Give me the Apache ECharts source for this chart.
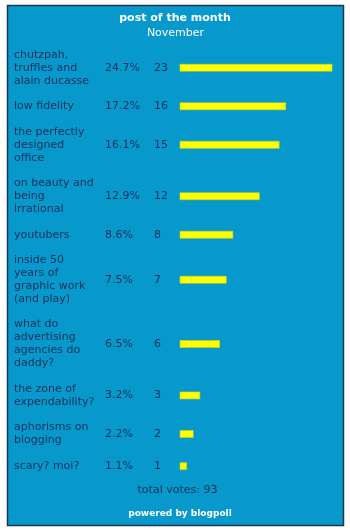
<!DOCTYPE html>
<html>
<head>
<meta charset="utf-8">
<script src="https://cdn.jsdelivr.net/npm/echarts@6/dist/echarts.min.js"></script>
<style>
  html, body { margin: 0; padding: 0; background: #ffffff; }
  #chart { width: 350px; height: 532px; }
</style>
</head>
<body>
<div id="chart"></div>
<script>
// Poll entries, top to bottom (line breaks as wrapped in the widget)
var categories = [
  'chutzpah,\ntruffles and\nalain ducasse',
  'low fidelity',
  'the perfectly\ndesigned\noffice',
  'on beauty and\nbeing\nirrational',
  'youtubers',
  'inside 50\nyears of\ngraphic work\n(and play)',
  'what do\nadvertising\nagencies do\ndaddy?',
  'the zone of\nexpendability?',
  'aphorisms on\nblogging',
  'scary? moi?'
];
var votes = [23, 16, 15, 12, 8, 7, 6, 3, 2, 1];
var percents = ['24.7%', '17.2%', '16.1%', '12.9%', '8.6%', '7.5%', '6.5%', '3.2%', '2.2%', '1.1%'];
var totalVotes = 93;

var textColor = '#15305a';
var font = 'Verdana, "DejaVu Sans", sans-serif';

// Each row is (lines + 1) line-units tall; rows are placed by their centre.
var rows = [];
var cursor = 0;
for (var i = 0; i < categories.length; i++) {
  var lines = categories[i].split('\n').length;
  var h = lines + 1;
  rows.push([votes[i], cursor + h / 2, i]);
  cursor += h;
}
var totalUnits = cursor;

function centred(text, x, y, color, size, weight) {
  return {
    type: 'text', x: x, y: y,
    style: {
      text: text, fill: color, align: 'center', verticalAlign: 'middle',
      font: weight + ' ' + size + 'px ' + font
    }
  };
}

var chart = echarts.init(document.getElementById('chart'));
chart.setOption({
  backgroundColor: '#ffffff',
  animation: false,
  graphic: [
    {
      type: 'rect',
      shape: { x: 7.5, y: 5.5, width: 336, height: 520 },
      style: { fill: '#0899cc', stroke: '#1d3550', lineWidth: 1.5 },
      z: -10
    },
    centred('post of the month', 175, 18, '#ffffff', 11, 'bold'),
    centred('November', 175.5, 33, '#ffffff', 11, 'normal'),
    centred('total votes: ' + totalVotes, 177.5, 490, textColor, 11, 'normal'),
    centred('powered by blogpoll', 180, 514, '#ffffff', 9, 'bold')
  ],
  grid: { left: 180, top: 42, width: 152, height: 437 },
  xAxis: { type: 'value', min: 0, max: 23, show: false },
  yAxis: { type: 'value', min: 0, max: totalUnits, inverse: true, show: false },
  series: [{
    type: 'custom',
    data: rows,
    encode: { x: 0, y: 1 },
    renderItem: function (params, api) {
      var v = api.value(0);
      var yc = api.value(1);
      var idx = api.value(2);
      var p0 = api.coord([0, yc]);
      var p1 = api.coord([v, yc]);
      var barH = 7;
      return {
        type: 'group',
        children: [
          {
            type: 'rect',
            shape: { x: p0[0], y: p0[1] - barH / 2, width: p1[0] - p0[0], height: barH },
            style: { fill: '#ffff00', stroke: '#c9d81e', lineWidth: 0.6 }
          },
          {
            type: 'text',
            x: 14, y: p0[1],
            style: {
              text: categories[idx], fill: textColor, font: '11px ' + font,
              lineHeight: 13, verticalAlign: 'middle', align: 'left'
            }
          },
          {
            type: 'text',
            x: 105, y: p0[1],
            style: { text: percents[idx], fill: textColor, font: '11px ' + font, verticalAlign: 'middle', align: 'left' }
          },
          {
            type: 'text',
            x: 154, y: p0[1],
            style: { text: String(v), fill: textColor, font: '11px ' + font, verticalAlign: 'middle', align: 'left' }
          }
        ]
      };
    }
  }]
});
</script>
</body>
</html>
